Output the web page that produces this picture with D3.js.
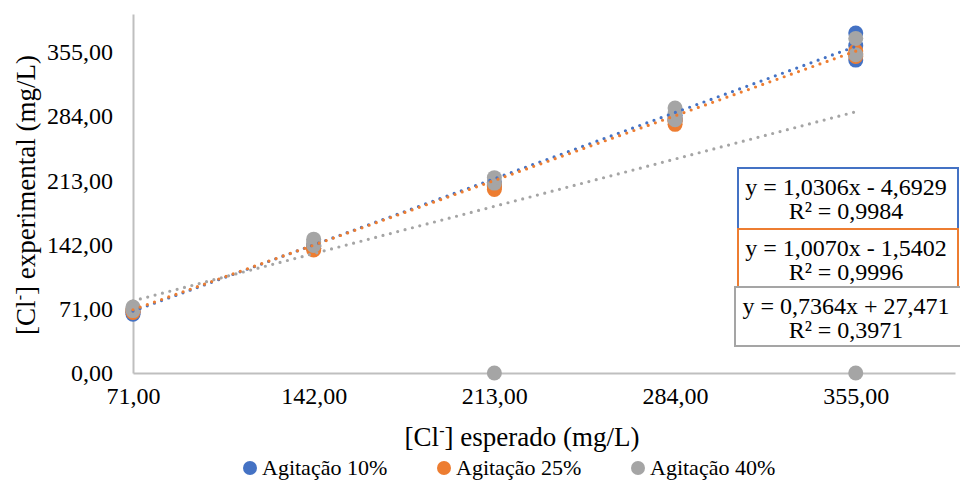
<!DOCTYPE html>
<html>
<head>
<meta charset="utf-8">
<script src="https://cdn.jsdelivr.net/npm/d3@7"></script>
<style>
  body { margin: 0; background: #fff; }
  svg text { font-family: "Liberation Serif", "DejaVu Serif", serif; }
</style>
</head>
<body>
<svg id="chart" width="960" height="482"></svg>
<script>
// expected concentrations (x) - three replicates per level
const xLevels = [71, 142, 213, 284, 355]
const xTicks = [71, 142, 213, 284, 355]
const yTicks = [0, 71, 142, 213, 284, 355]

const series = ['Agitação 10%', 'Agitação 25%', 'Agitação 40%']
const colors = ['#4472C4', '#ED7D31', '#A5A5A5']

// measured values, one array per replicate level
const agit10 = [[65, 67, 68], [138, 140, 141], [207, 209, 211], [279, 282, 285], [346, 362, 376]]
const agit25 = [[67, 69, 70], [136, 138, 140], [203, 206, 208], [275, 278, 281], [350, 353, 356]]
const agit40 = [[69, 71, 73], [141, 145, 148], [0, 210, 216], [280, 287, 293], [0, 352, 370]]

// linear trendlines (from the chart labels)
const slopes = [1.0306, 1.0070, 0.7364]
const intercepts = [-4.6929, -1.5402, 27.471]
const eqLabels = ['y = 1,0306x - 4,6929', 'y = 1,0070x - 1,5402', 'y = 0,7364x + 27,471']
const r2Labels = ['R² = 0,9984', 'R² = 0,9996', 'R² = 0,3971']

const svg = d3.select('#chart')
const fmt = d => d3.format('.2f')(d).replace('.', ',')

const x = d3.scaleLinear().domain([71, 394]).range([133, 955])
const y = d3.scaleLinear().domain([0, 397]).range([373, 14])

// axes
const xAxis = svg.append('g').attr('transform', 'translate(0,' + y(0) + ')')
  .call(d3.axisBottom(x).tickValues(xTicks).tickFormat(fmt).tickSize(0).tickPadding(14))
const yAxis = svg.append('g').attr('transform', 'translate(' + x(71) + ',0)')
  .call(d3.axisLeft(y).tickValues(yTicks).tickFormat(fmt).tickSize(0).tickPadding(20))
;[xAxis, yAxis].forEach(a => {
  a.attr('font-family', null)
  a.select('.domain').attr('stroke', '#BFBFBF').attr('stroke-width', 2)
  a.selectAll('text').attr('font-size', 24).attr('fill', '#000')
})

// markers
const allData = [agit10, agit25, agit40]
allData.forEach((vals, i) => {
  const pts = []
  vals.forEach((reps, j) => reps.forEach(v => pts.push({ x: xLevels[j], y: v })))
  svg.append('g').selectAll('circle').data(pts).join('circle')
    .attr('cx', d => x(d.x)).attr('cy', d => y(d.y)).attr('r', 7.5)
    .attr('fill', colors[i])
})

// trendlines
const line = d3.line().x(d => x(d[0])).y(d => y(d[1]))
slopes.forEach((m, i) => {
  const ends = [71, 355].map(v => [v, m * v + intercepts[i]])
  svg.append('path').datum(ends).attr('d', line)
    .attr('fill', 'none').attr('stroke', colors[i]).attr('stroke-width', 3.2)
    .attr('stroke-linecap', 'round').attr('stroke-dasharray', '0 7.6')
})

// equation boxes
const boxes = [
  { x: 738, y: 168, w: 220, h: 61 },
  { x: 738, y: 229, w: 220, h: 58 },
  { x: 735, y: 287, w: 226, h: 59 }
]
boxes.forEach((b, i) => {
  const g = svg.append('g')
  g.append('rect').attr('x', b.x).attr('y', b.y).attr('width', b.w).attr('height', b.h)
    .attr('fill', '#fff').attr('stroke', colors[i]).attr('stroke-width', 2)
  g.append('text').attr('x', 846).attr('y', b.y + 27).attr('text-anchor', 'middle')
    .attr('font-size', 24).text(eqLabels[i])
  g.append('text').attr('x', 846).attr('y', b.y + 51).attr('text-anchor', 'middle')
    .attr('font-size', 24).text(r2Labels[i])
})

// axis titles
const xt = svg.append('text').attr('x', 522).attr('y', 446).attr('text-anchor', 'middle')
  .attr('font-size', 27)
xt.append('tspan').text('[Cl')
xt.append('tspan').attr('dy', -10).attr('font-size', 16).text('-')
xt.append('tspan').attr('dy', 10).text('] esperado (mg/L)')

const yt = svg.append('text').attr('transform', 'translate(35,195) rotate(-90)')
  .attr('text-anchor', 'middle').attr('font-size', 27)
yt.append('tspan').text('[Cl')
yt.append('tspan').attr('dy', -10).attr('font-size', 16).text('-')
yt.append('tspan').attr('dy', 10).text('] experimental (mg/L)')

// legend
const legendX = [250, 444, 638]
series.forEach((s, i) => {
  const g = svg.append('g')
  g.append('circle').attr('cx', legendX[i]).attr('cy', 468).attr('r', 7).attr('fill', colors[i])
  g.append('text').attr('x', legendX[i] + 12).attr('y', 475).attr('font-size', 22).text(s)
})
</script>
</body>
</html>
